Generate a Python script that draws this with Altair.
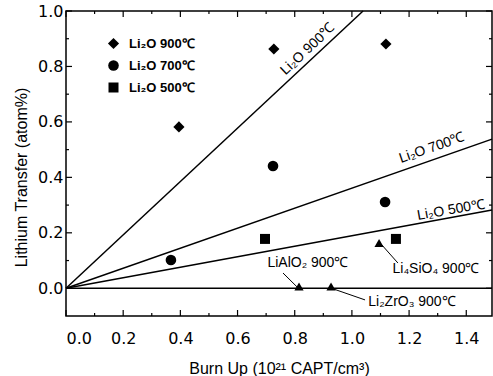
import altair as alt
import pandas as pd

# ---- data ----
series = ["Li₂O 900℃", "Li₂O 700℃", "Li₂O 500℃"]
burn_900 = [0.395, 0.727, 1.119]
trans_900 = [0.582, 0.863, 0.881]
burn_700 = [0.367, 0.724, 1.116]
trans_700 = [0.102, 0.441, 0.311]
burn_500 = [0.696, 1.154]
trans_500 = [0.178, 0.178]

other_names = ["LiAlO₂ 900℃", "Li₂ZrO₃ 900℃", "Li₄SiO₄ 900℃"]
other_burn = [0.815, 0.927, 1.095]
other_trans = [0.006, 0.006, 0.163]

fit_names = ["Li₂O 900℃", "Li₂O 700℃", "Li₂O 500℃", "zero"]
fit_start_burn = [0.0, 0.0, 0.0, 0.0]
fit_start_trans = [0.0, 0.0, 0.0, 0.0]
fit_end_burn = [1.039, 1.49, 1.49, 1.49]
fit_end_trans = [1.0, 0.538, 0.282, 0.0]

fit_label_text = ["Li₂O 900℃", "Li₂O 700℃", "Li₂O 500℃"]
fit_label_burn = [0.846, 1.28, 1.347]
fit_label_trans = [0.862, 0.506, 0.282]
fit_label_angle = [317, 341, 350]

note_burn = [0.846, 1.210, 1.294]
note_trans = [0.091, -0.049, 0.069]
note_from_burn = [0.759, 1.046, 1.161]
note_from_trans = [0.055, -0.042, 0.091]
note_to_burn = [0.808, 0.934, 1.105]
note_to_trans = [0.005, -0.002, 0.156]

x_major = [0.0, 0.2, 0.4, 0.6, 0.8, 1.0, 1.2, 1.4]
x_minor = [0.1, 0.3, 0.5, 0.7, 0.9, 1.1, 1.3]
y_major = [0.0, 0.2, 0.4, 0.6, 0.8, 1.0]
y_minor = [0.1, 0.3, 0.5, 0.7, 0.9]

# ---- tables ----
pts = pd.DataFrame({
    "burn": burn_900 + burn_700 + burn_500,
    "trans": trans_900 + trans_700 + trans_500,
    "series": [series[0]] * 3 + [series[1]] * 3 + [series[2]] * 2,
})
others = pd.DataFrame({"name": other_names, "burn": other_burn, "trans": other_trans})
fits = pd.DataFrame({"name": fit_names, "x0": fit_start_burn, "y0": fit_start_trans,
                     "x1": fit_end_burn, "y1": fit_end_trans})
fit_labels = pd.DataFrame({"text": fit_label_text, "burn": fit_label_burn,
                           "trans": fit_label_trans, "angle": fit_label_angle})
notes = pd.DataFrame({"text": other_names, "burn": note_burn, "trans": note_trans,
                      "x0": note_from_burn, "y0": note_from_trans,
                      "x1": note_to_burn, "y1": note_to_trans})

W, H = 426, 305
xs = alt.Scale(domain=[0, 1.49], nice=False, zero=False)
ys = alt.Scale(domain=[-0.1, 1.0], nice=False, zero=False)
xaxis = alt.Axis(values=x_major, format=".1f", ticks=False, tickSize=0, domain=False,
                 grid=False, labelPadding=14, labelFont="DejaVu Sans", labelFontSize=16,
                 title="Burn Up (10²¹ CAPT/cm³)", titlePadding=14,
                 titleFont="Liberation Sans", titleFontSize=16, titleFontWeight="normal")
yaxis = alt.Axis(values=y_major, format=".1f", ticks=False, tickSize=0, domain=False,
                 grid=False, labelPadding=3, labelFont="DejaVu Sans", labelFontSize=16,
                 title="Lithium Transfer (atom%)", titlePadding=8, titleY=166,
                 titleFont="Liberation Sans", titleFontSize=16, titleFontWeight="normal")


def X(f):
    return alt.X(f, type="quantitative", scale=xs, axis=xaxis)


def Y(f):
    return alt.Y(f, type="quantitative", scale=ys, axis=yaxis)


legend = alt.Legend(title=None, orient="none", legendX=41, legendY=26,
                    labelFont="Liberation Sans", labelFontSize=13,
                    labelFontWeight="bold", labelColor="black",
                    symbolFillColor="black", symbolStrokeColor="black",
                    symbolStrokeWidth=0, rowPadding=8, labelOffset=9, padding=0)

lines = alt.Chart(fits).mark_rule(color="black", strokeWidth=1.5).encode(
    x=X("x0"), y=Y("y0"), x2="x1", y2="y1")

points = alt.Chart(pts).mark_point(filled=True, color="black", opacity=1).encode(
    x=X("burn"), y=Y("trans"),
    size=alt.Size("series:N", scale=alt.Scale(domain=series, range=[125, 100, 90]),
                  legend=legend),
    shape=alt.Shape("series:N",
                    scale=alt.Scale(domain=series, range=["diamond", "circle", "square"]),
                    legend=legend))

tri = alt.Chart(others).mark_point(filled=True, size=85, color="black", opacity=1,
                                   shape="triangle-up").encode(x=X("burn"), y=Y("trans"))

flabels = alt.Chart(fit_labels).mark_text(font="Liberation Sans", fontSize=14,
                                          color="black", align="center",
                                          baseline="middle").encode(
    x=X("burn"), y=Y("trans"), text="text:N", angle=alt.Angle("angle:Q", scale=None))

leaders = alt.Chart(notes).mark_rule(color="black", strokeWidth=1).encode(
    x=X("x0"), y=Y("y0"), x2="x1", y2="y1")

ntext = alt.Chart(notes).mark_text(font="Liberation Sans", fontSize=14, color="black",
                                   align="center", baseline="middle").encode(
    x=X("burn"), y=Y("trans"), text="text:N")

xmaj = pd.DataFrame({"v": x_major})
xmin = pd.DataFrame({"v": x_minor})
ymaj = pd.DataFrame({"v": y_major})
ymin = pd.DataFrame({"v": y_minor})

tick_layers = []
for df, ln in [(xmaj, 6), (xmin, 3)]:
    tick_layers.append(alt.Chart(df).mark_rule(color="black", strokeWidth=1.2).encode(
        x=X("v"), y=alt.value(H), y2=alt.value(H - ln)))
    tick_layers.append(alt.Chart(df).mark_rule(color="black", strokeWidth=1.2).encode(
        x=X("v"), y=alt.value(0), y2=alt.value(ln)))
for df, ln in [(ymaj, 6), (ymin, 3)]:
    tick_layers.append(alt.Chart(df).mark_rule(color="black", strokeWidth=1.2).encode(
        y=Y("v"), x=alt.value(0), x2=alt.value(ln)))
    tick_layers.append(alt.Chart(df).mark_rule(color="black", strokeWidth=1.2).encode(
        y=Y("v"), x=alt.value(W), x2=alt.value(W - ln)))

chart = alt.layer(lines, leaders, *tick_layers, points, tri, flabels, ntext).properties(
    width=W, height=H,
    autosize=alt.AutoSizeParams(type="none"),
    padding={"left": 66, "top": 11, "right": 1, "bottom": 60},
    background="white",
).configure_view(stroke="black", strokeWidth=1.5).configure_axis(
    labelColor="black", titleColor="black")

chart.save("out.html", embed_options={"renderer": "svg", "actions": False})
